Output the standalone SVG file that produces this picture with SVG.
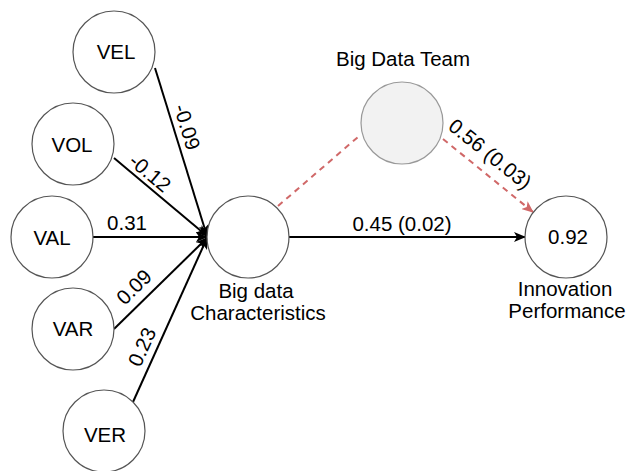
<svg xmlns="http://www.w3.org/2000/svg" width="630" height="471" viewBox="0 0 630 471">
<style>
text{font-family:"Liberation Sans",Arial,sans-serif;font-size:20.5px;fill:#000}
.n{fill:#fff;stroke:#555;stroke-width:1.2}
.t{fill:#f2f2f2;stroke:#999;stroke-width:1.2}
.c{stroke:#000;stroke-width:2;fill:none}
.r{stroke:#d06868;stroke-width:2;fill:none;stroke-dasharray:6 5}
.m{text-anchor:middle}
</style>
<defs>
<marker id="ab" markerWidth="12" markerHeight="10" refX="11" refY="5" orient="auto" markerUnits="userSpaceOnUse"><path d="M0,0 L12,5 L0,10 L3,5 Z" fill="#000"/></marker>
<marker id="ar" markerWidth="12" markerHeight="10" refX="11" refY="5" orient="auto" markerUnits="userSpaceOnUse"><path d="M0,0 L12,5 L0,10 L3,5 Z" fill="#d06868"/></marker>
</defs>
<g id="connectors">
<line class="c" x1="155" y1="68" x2="207" y2="236" marker-end="url(#ab)"/>
<line class="c" x1="114" y1="158" x2="207" y2="236" marker-end="url(#ab)"/>
<line class="c" x1="93" y1="237" x2="207" y2="237" marker-end="url(#ab)"/>
<line class="c" x1="114" y1="329" x2="207" y2="238" marker-end="url(#ab)"/>
<line class="c" x1="133" y1="402" x2="207" y2="238" marker-end="url(#ab)"/>
<line class="c" x1="289" y1="237" x2="525" y2="237" marker-end="url(#ab)"/>
<line class="r" x1="278" y1="206" x2="358" y2="137"/>
<line class="r" x1="443" y1="139" x2="533" y2="212" marker-end="url(#ar)"/>
<text class="m" transform="translate(187,127) rotate(72.8)" y="7">-0.09</text>
<text class="m" transform="translate(150,173) rotate(40)" y="7">-0.12</text>
<text class="m" x="127" y="230">0.31</text>
<text class="m" transform="translate(134,287) rotate(-44.4)" y="7">0.09</text>
<text class="m" transform="translate(142,347) rotate(-65.8)" y="7">0.23</text>
<text class="m" x="402" y="231">0.45 (0.02)</text>
<text class="m" transform="translate(490,154) rotate(38.7)" y="7">0.56 (0.03)</text>
</g>
<g id="VEL"><circle class="n" cx="114" cy="52" r="41"/><text class="m" x="116" y="59">VEL</text></g>
<g id="VOL"><circle class="n" cx="73" cy="144" r="41"/><text class="m" x="72" y="152">VOL</text></g>
<g id="VAL"><circle class="n" cx="52" cy="237" r="41"/><text class="m" x="52" y="245">VAL</text></g>
<g id="VAR"><circle class="n" cx="73" cy="329" r="41"/><text class="m" x="73" y="336">VAR</text></g>
<g id="VER"><circle class="n" cx="104" cy="431" r="41"/><text class="m" x="105" y="442">VER</text></g>
<g id="BDC"><circle class="n" cx="248" cy="237" r="41"/><text class="m" x="256" y="298">Big data</text><text class="m" x="258" y="320">Characteristics</text></g>
<g id="BDT"><circle class="t" cx="402" cy="123" r="41"/><text class="m" x="403" y="66">Big Data Team</text></g>
<g id="IP"><circle class="n" cx="566" cy="237" r="41"/><text class="m" x="568" y="244">0.92</text><text class="m" x="565" y="296">Innovation</text><text class="m" x="567" y="318">Performance</text></g>
</svg>
